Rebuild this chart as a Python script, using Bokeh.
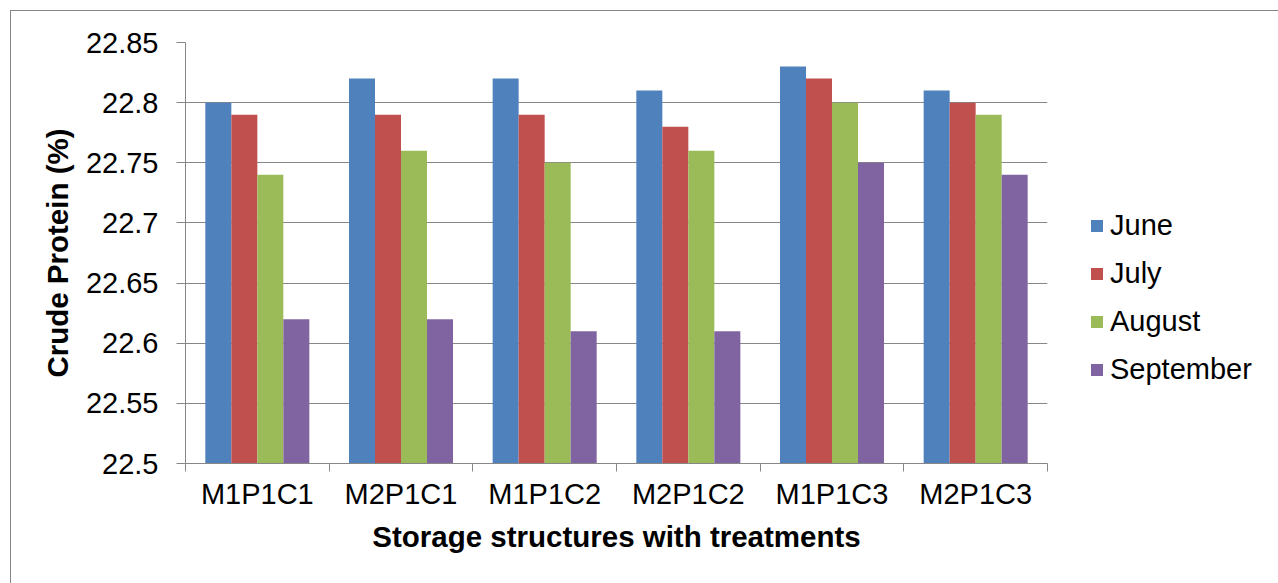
from bokeh.plotting import figure
from bokeh.models import ColumnDataSource, Range1d, FixedTicker, Legend, LegendItem
from bokeh.transform import dodge
from bokeh.embed import file_html
from bokeh.resources import INLINE

categories = ["M1P1C1", "M2P1C1", "M1P1C2", "M2P1C2", "M1P1C3", "M2P1C3"]
june = [22.80, 22.82, 22.82, 22.81, 22.83, 22.81]
july = [22.79, 22.79, 22.79, 22.78, 22.82, 22.80]
august = [22.74, 22.76, 22.75, 22.76, 22.80, 22.79]
september = [22.62, 22.62, 22.61, 22.61, 22.75, 22.74]
series_names = ["June", "July", "August", "September"]
y_ticks = [22.5, 22.55, 22.6, 22.65, 22.7, 22.75, 22.8, 22.85]
y_tick_labels = ["22.5", "22.55", "22.6", "22.65", "22.7", "22.75", "22.8", "22.85"]

colors = ["#4F81BD", "#C0504D", "#9BBB59", "#8064A2"]
FONT = "Liberation Sans"
GRAY = "#878787"

xc = [i + 0.5 for i in range(len(categories))]
source = ColumnDataSource(dict(x=xc, cat=categories, June=june, July=july,
                               August=august, September=september))

p = figure(frame_width=862, frame_height=421, output_backend="svg", toolbar_location=None,
           x_range=Range1d(0, len(categories)), y_range=Range1d(y_ticks[0], y_ticks[-1]),
           min_border_left=185, min_border_right=0, min_border_top=42, min_border_bottom=120)
p.outline_line_color = None
p.background_fill_color = "white"
p.border_fill_color = "white"

bw = 0.181
renderers = []
for k, name in enumerate(series_names):
    r = p.vbar(x=dodge("x", (k - 1.5) * bw, range=p.x_range), top=name, bottom=y_ticks[0],
               width=bw, source=source, fill_color=colors[k], line_color=None)
    renderers.append(r)

# x axis
p.xaxis.ticker = FixedTicker(ticks=xc, minor_ticks=list(range(len(categories) + 1)))
p.xaxis.major_label_overrides = {x: c for x, c in zip(xc, categories)}
p.xaxis.major_tick_out = 0
p.xaxis.major_tick_in = 0
p.xaxis.minor_tick_out = 8
p.xaxis.minor_tick_in = 0
p.xaxis.minor_tick_line_color = GRAY
p.xaxis.axis_line_color = GRAY
p.xaxis.major_label_text_font = FONT
p.xaxis.major_label_text_font_size = "29px"
p.xaxis.major_label_text_color = "black"
p.xaxis.major_label_standoff = 6
p.xaxis.axis_label = "Storage structures with treatments"
p.xaxis.axis_label_text_font = FONT
p.xaxis.axis_label_text_font_size = "29.5px"
p.xaxis.axis_label_text_font_style = "bold"
p.xaxis.axis_label_text_color = "black"
p.xaxis.axis_label_standoff = 7
p.xgrid.grid_line_color = None

# y axis
p.yaxis.ticker = FixedTicker(ticks=y_ticks)
p.yaxis.major_label_overrides = {t: l for t, l in zip(y_ticks, y_tick_labels)}
p.yaxis.major_tick_out = 9
p.yaxis.major_tick_in = 0
p.yaxis.major_tick_line_color = GRAY
p.yaxis.minor_tick_line_color = None
p.yaxis.axis_line_color = GRAY
p.yaxis.major_label_text_font = FONT
p.yaxis.major_label_text_font_size = "29px"
p.yaxis.major_label_text_color = "black"
p.yaxis.major_label_standoff = 18
p.yaxis.axis_label = "Crude Protein (%)"
p.yaxis.axis_label_text_font = FONT
p.yaxis.axis_label_text_font_size = "29.5px"
p.yaxis.axis_label_text_font_style = "bold"
p.yaxis.axis_label_text_color = "black"
p.yaxis.axis_label_standoff = 9
p.ygrid.grid_line_color = GRAY
p.ygrid.grid_line_width = 1

legend = Legend(items=[LegendItem(label=n, renderers=[r]) for n, r in zip(series_names, renderers)],
                location=(42, 77), padding=0, margin=0, border_line_color=None,
                background_fill_alpha=0, glyph_width=15, glyph_height=15,
                label_standoff=6, label_height=33, spacing=15,
                label_text_font=FONT, label_text_font_size="29px", label_text_color="black")
p.add_layout(legend, "right")

html = file_html(p, INLINE)
frame_div = ('<div style="position:fixed;left:10px;top:10px;width:3000px;height:3000px;'
             'border-left:1px solid #878787;border-top:1px solid #878787;'
             'pointer-events:none;z-index:10"></div>')
html = html.replace("</body>", frame_div + "</body>")
open("out.html", "w").write(html)
